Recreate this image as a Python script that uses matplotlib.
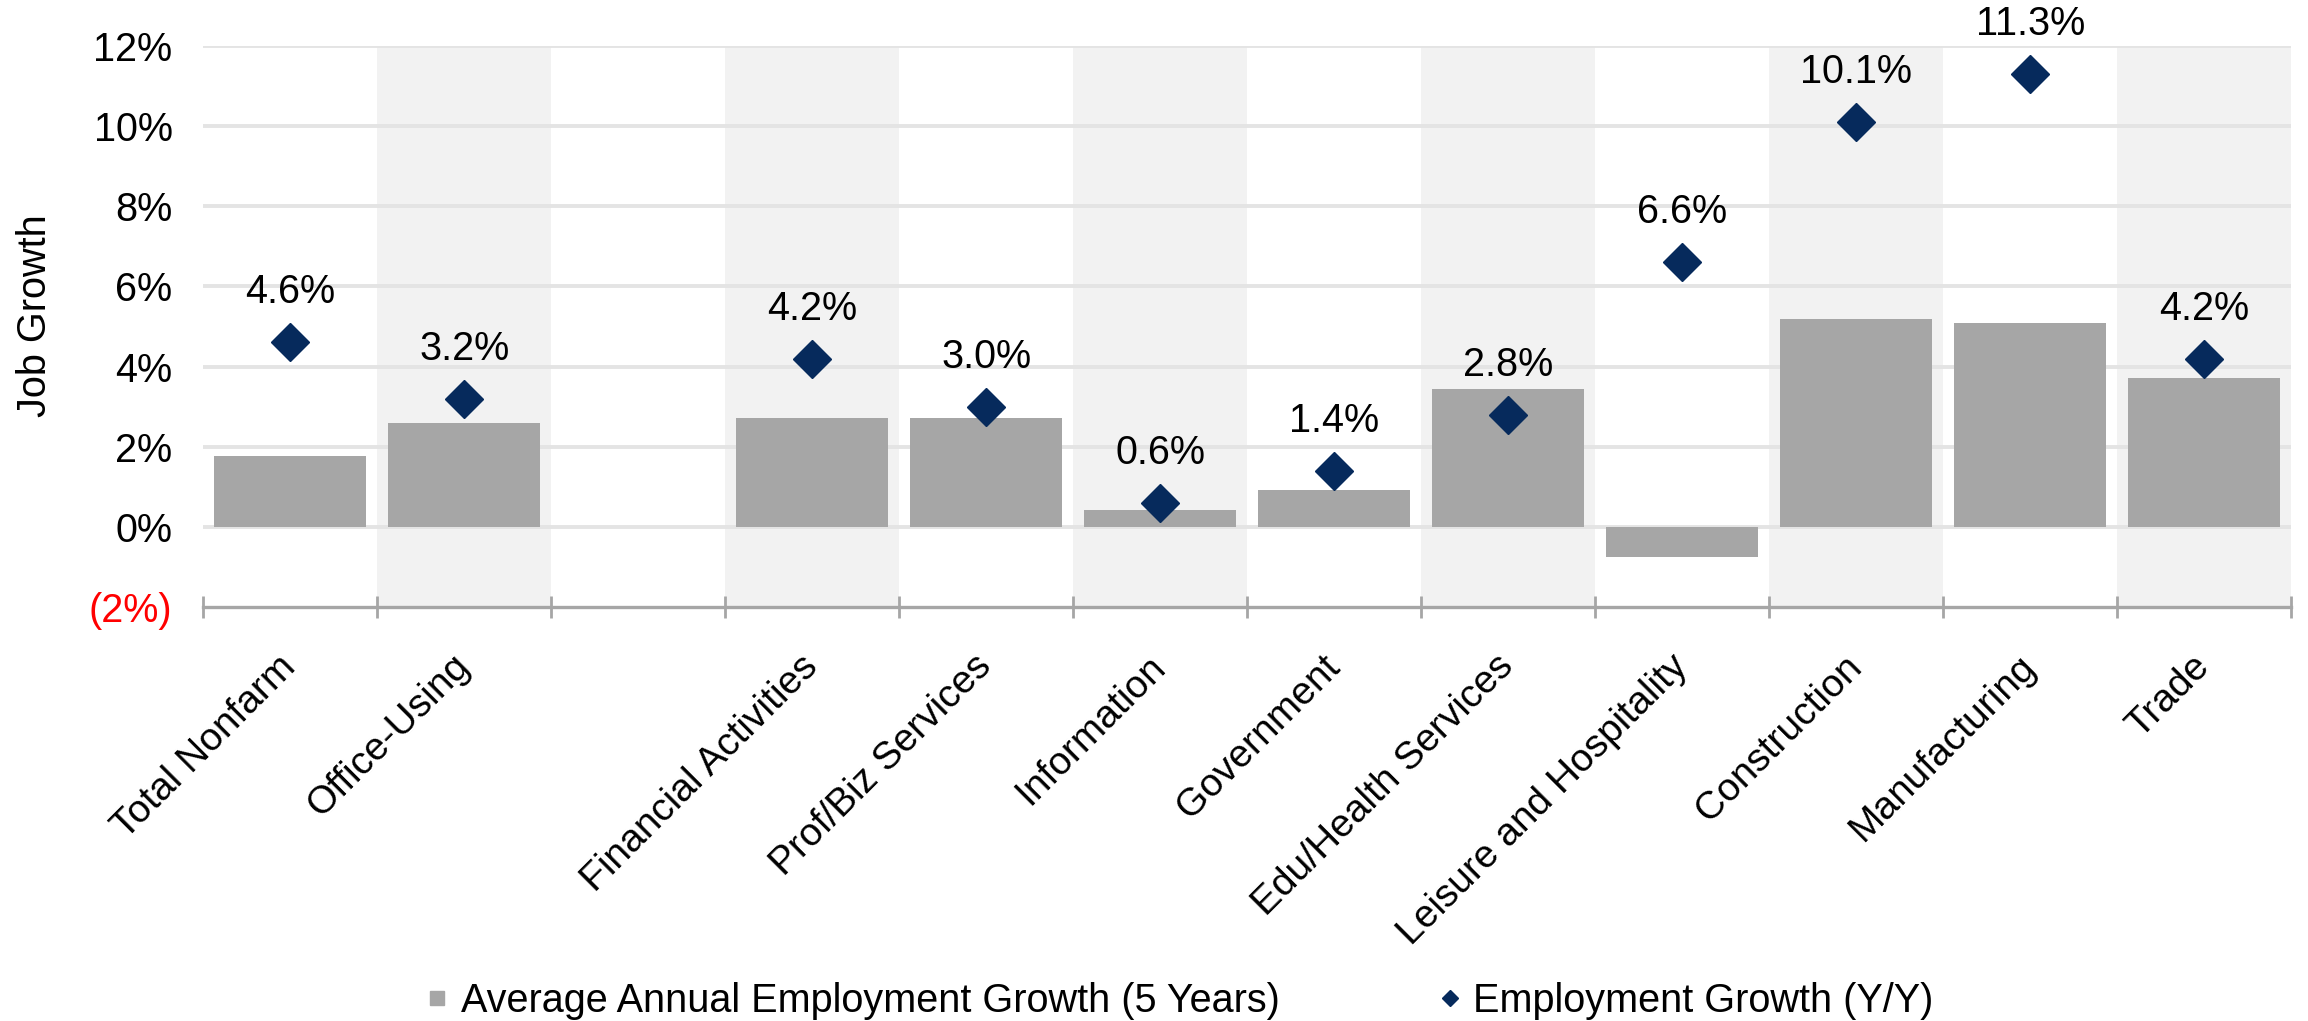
import numpy as np
import matplotlib
matplotlib.use('Agg')
import matplotlib.pyplot as plt
from matplotlib.lines import Line2D

plt.rcParams['font.family'] = ['Liberation Sans', 'DejaVu Sans']

categories = ['Total Nonfarm', 'Office-Using', '', 'Financial Activities',
              'Prof/Biz Services', 'Information', 'Government',
              'Edu/Health Services', 'Leisure and Hospitality',
              'Construction', 'Manufacturing', 'Trade']
avg_5yr = [1.78, 2.59, np.nan, 2.71, 2.71, 0.42, 0.92, 3.44, -0.76, 5.19, 5.09, 3.72]
yoy = [4.6, 3.2, np.nan, 4.2, 3.0, 0.6, 1.4, 2.8, 6.6, 10.1, 11.3, 4.2]
y_ticks = [-2, 0, 2, 4, 6, 8, 10, 12]

bar_color = '#a6a6a6'
dot_color = '#062a5c'
shade = '#f2f2f2'
grid_c = '#e4e4e4'
fs = 28.5

fig = plt.figure(figsize=(23.08, 10.21), dpi=100)
ax = fig.add_axes([0.088, 0.4055, 0.9047, 0.5495])

x = np.arange(len(categories))

# alternating background columns
for i in x:
    if i % 2 == 1:
        ax.axvspan(i - 0.5, i + 0.5, color=shade, zorder=0, lw=0)

for t in y_ticks[1:]:
    ax.axhline(t, color=grid_c, lw=2.8, zorder=0.5)

ax.bar(x, avg_5yr, width=0.87, color=bar_color, zorder=2)
ax.plot(x, yoy, linestyle='none', marker='D', markersize=19,
        color=dot_color, zorder=3)

for xi, v in zip(x, yoy):
    if np.isnan(v):
        continue
    ax.annotate(f'{v:.1f}%', (xi, v), xytext=(0, 36), textcoords='offset points',
                ha='center', va='center', fontsize=fs)

ax.set_xlim(-0.5, len(categories) - 0.5)
ax.set_ylim(-2, 12)

ax.set_yticks(y_ticks)
ylabels = ['(2%)' if t < 0 else f'{t}%' for t in y_ticks]
ax.set_yticklabels(ylabels, fontsize=fs)
ax.get_yticklabels()[0].set_color('red')
ax.tick_params(axis='y', length=0, pad=22)

ax.set_xticks(x)
ax.set_xticklabels(categories, fontsize=28, rotation=45, ha='right',
                   rotation_mode='anchor', va='center')
ax.set_xticks(np.arange(-0.5, len(categories)), minor=True)
ax.tick_params(axis='x', which='major', length=0, pad=39)
ax.tick_params(axis='x', which='minor', direction='inout', length=16,
               width=2, color=bar_color)

for s in ['top', 'right', 'left']:
    ax.spines[s].set_visible(False)
ax.spines['bottom'].set_color(bar_color)
ax.spines['bottom'].set_linewidth(2.4)

ax.set_ylabel('Job Growth', fontsize=fs)
ax.yaxis.set_label_coords(-0.0715, 0.52)

handles = [
    Line2D([], [], linestyle='none', marker='s', markersize=10, color=bar_color),
    Line2D([], [], linestyle='none', marker='D', markersize=8.5, color=dot_color),
]
fig.legend(handles, ['Average Annual Employment Growth (5 Years)',
                     'Employment Growth (Y/Y)'],
           loc='center', bbox_to_anchor=(0.511, 0.02), ncol=2, frameon=False,
           fontsize=fs, handlelength=0.6, handletextpad=0.3, columnspacing=4.0)

fig.savefig('out.png', dpi=100)
